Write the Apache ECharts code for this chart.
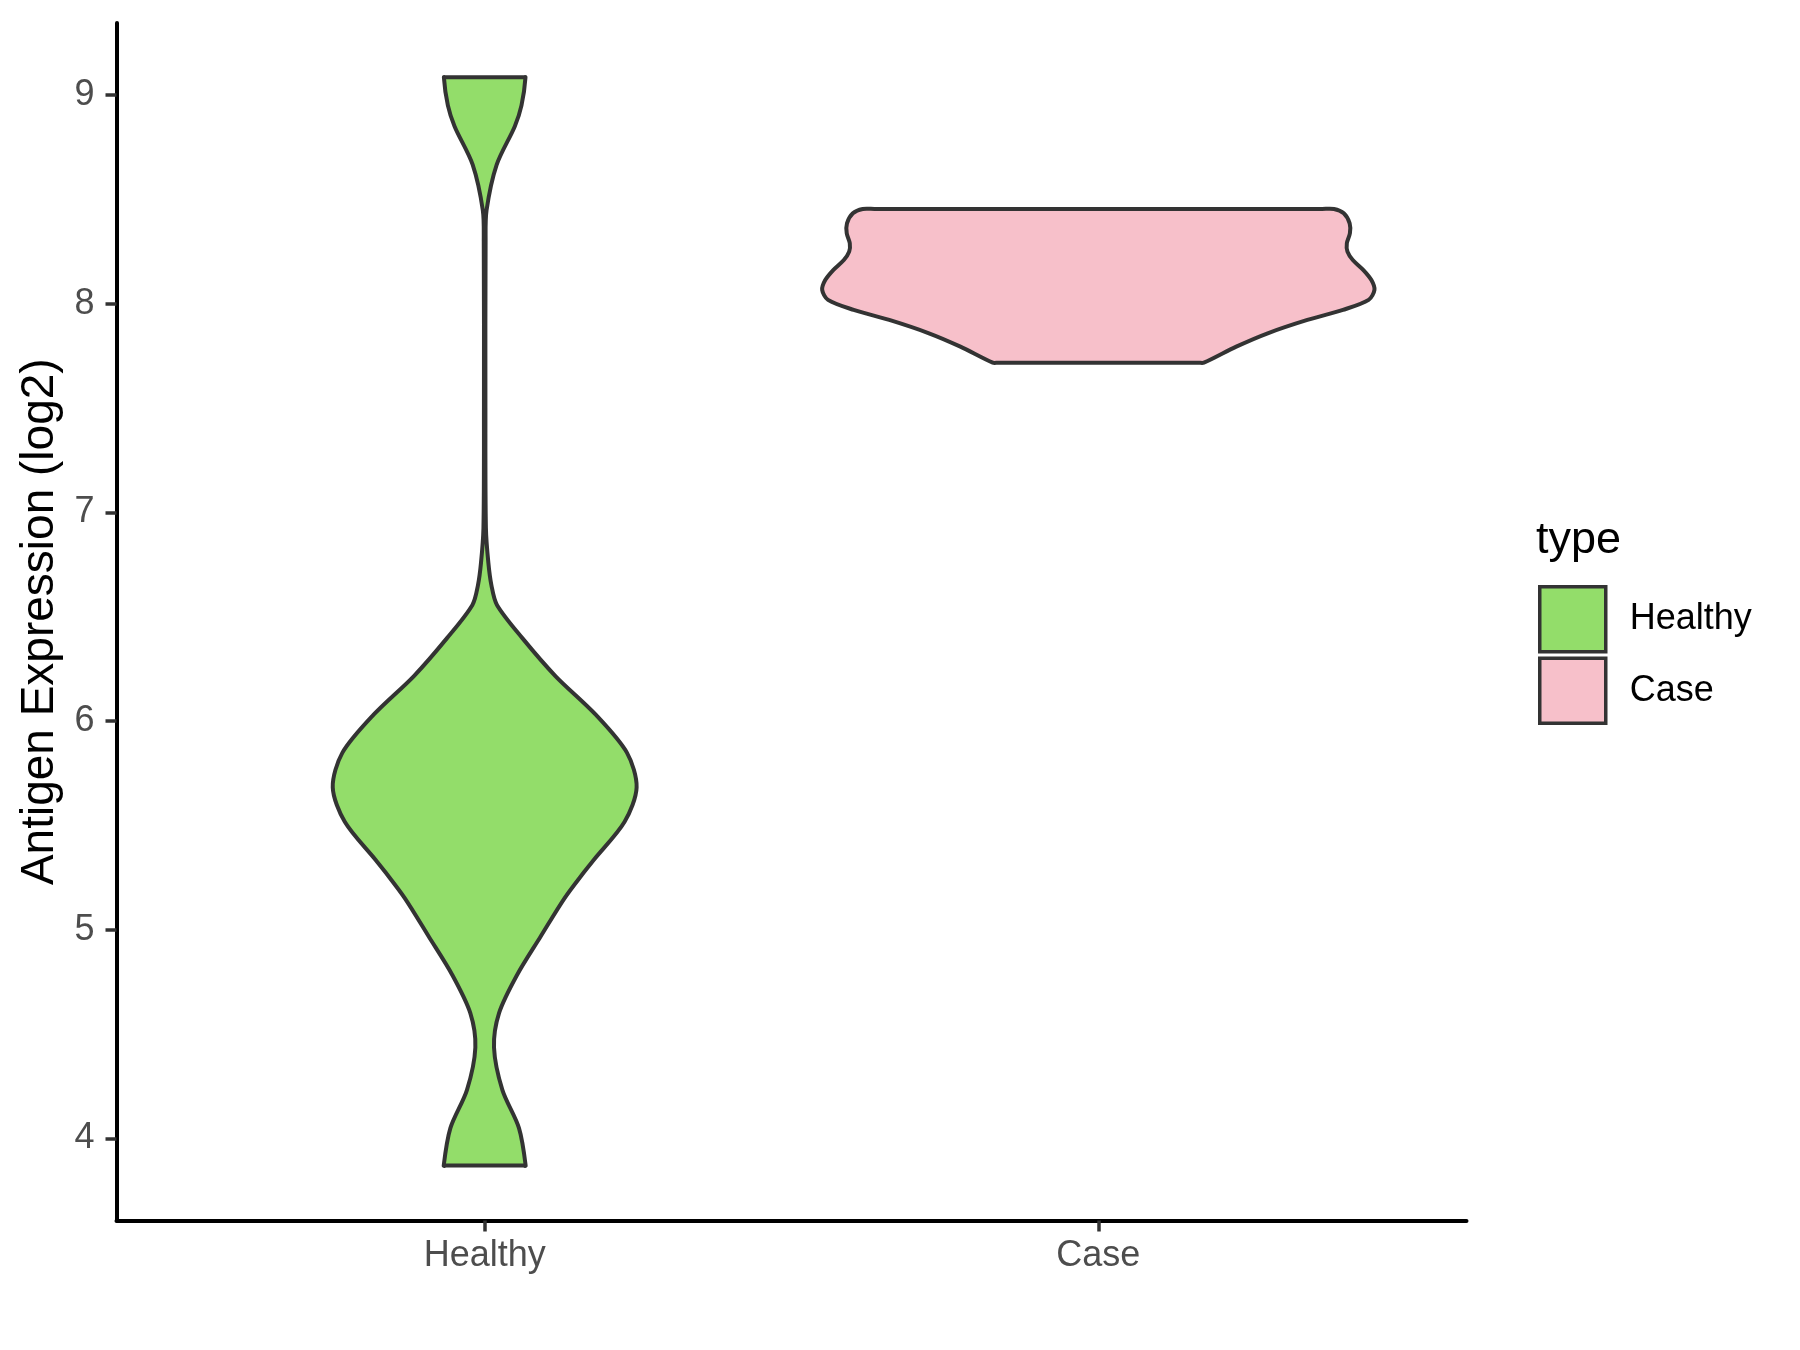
<!DOCTYPE html>
<html><head><meta charset="utf-8">
<script src="https://cdn.jsdelivr.net/npm/echarts@6/dist/echarts.min.js"></script>
<style>html,body{margin:0;padding:0;background:#fff}#c{width:1800px;height:1350px}</style>
</head><body><div id="c"></div>
<script>
// ---- data ----
const categories = ['Healthy', 'Case'];
const yTickValues = [4, 5, 6, 7, 8, 9];
const xTickValues = [1, 2];
// Healthy violin outline: y value and half-width (in category units)
const healthyY = [3.869, 4.049, 4.232, 4.435, 4.6, 4.784, 4.967, 5.15, 5.276, 5.335, 5.517, 5.682, 5.847, 6.03, 6.214, 6.397, 6.556, 6.65, 6.758, 6.925, 7.5, 8.3, 8.446, 8.666, 8.849, 8.95, 9.085];
const healthyHalfWidth = [0.0668, 0.0559, 0.0288, 0.0152, 0.0234, 0.053, 0.0912, 0.13, 0.162, 0.178, 0.228, 0.2476, 0.232, 0.181, 0.1157, 0.0614, 0.02, 0.011, 0.006, 0.002, 0.0012, 0.0015, 0.003, 0.0196, 0.049, 0.06, 0.0665];
// Case violin outline
const caseY = [7.717, 7.794, 7.858, 7.922, 7.97, 8.018, 8.066, 8.113, 8.161, 8.209, 8.249, 8.289, 8.337, 8.385, 8.433, 8.454];
const caseHalfWidth = [0.172, 0.2248, 0.276, 0.3407, 0.3987, 0.4405, 0.450, 0.445, 0.432, 0.4147, 0.406, 0.405, 0.410, 0.4096, 0.4, 0.384];

const fillColors = ['#93DD6A', '#F7C0CA'];
const profiles = [[healthyY, healthyHalfWidth], [caseY, caseHalfWidth]];
const FONT = "'Liberation Sans', Arial, sans-serif";

function renderViolin(params, api) {
  const k = params.seriesIndex;
  const xc = api.value(0);
  const ys = profiles[k][0], ws = profiles[k][1];
  const n = ys.length;
  const right = [], left = [];
  for (let i = 0; i < n; i++) {
    right.push(api.coord([xc + ws[i], ys[i]]));
    left.push(api.coord([xc - ws[i], ys[i]]));
  }
  const pts = [];
  pts.push(api.coord([xc + ws[0] * 0.95, ys[0]]));
  for (let i = 0; i < n; i++) pts.push(right[i]);
  pts.push(api.coord([xc + ws[n - 1] * 0.95, ys[n - 1]]));
  pts.push(api.coord([xc - ws[n - 1] * 0.95, ys[n - 1]]));
  for (let i = n - 1; i >= 0; i--) pts.push(left[i]);
  pts.push(api.coord([xc - ws[0] * 0.95, ys[0]]));
  return {
    type: 'polygon',
    shape: { points: pts, smooth: 0.3 },
    style: { fill: fillColors[k], stroke: '#333333', lineWidth: 4, lineJoin: 'round' }
  };
}

const chart = echarts.init(document.getElementById('c'), null, { renderer: 'canvas' });
chart.setOption({
  animation: false,
  backgroundColor: '#ffffff',
  grid: { left: 116.5, right: 333.5, top: 23, bottom: 129.5 },
  xAxis: {
    type: 'value', min: 0.4, max: 2.6,
    splitLine: { show: false },
    axisLine: { lineStyle: { color: '#000000', width: 4 } },
    axisTick: { customValues: xTickValues, length: 11, lineStyle: { color: '#333333', width: 3.5 } },
    axisLabel: { customValues: xTickValues, formatter: v => categories[Math.round(v) - 1], fontSize: 36, color: '#4D4D4D', margin: 18, fontFamily: FONT }
  },
  yAxis: {
    type: 'value', min: 3.606, max: 9.345,
    splitLine: { show: false },
    axisLine: { show: true, lineStyle: { color: '#000000', width: 4 } },
    axisTick: { show: true, customValues: yTickValues, length: 11, lineStyle: { color: '#333333', width: 3.5 } },
    axisLabel: { customValues: yTickValues, fontSize: 36, color: '#4D4D4D', margin: 22, fontFamily: FONT },
    name: 'Antigen Expression (log2)', nameLocation: 'middle', nameGap: 44,
    nameTextStyle: { fontSize: 46, color: '#000000', fontFamily: FONT }
  },
  legend: {
    orient: 'vertical', left: 1538, top: 585, padding: 0,
    itemWidth: 66, itemHeight: 65, itemGap: 3, icon: 'rect', selectedMode: false,
    data: [
      { name: 'Healthy', itemStyle: { color: fillColors[0], borderColor: '#333333', borderWidth: 3.5 } },
      { name: 'Case', itemStyle: { color: fillColors[1], borderColor: '#333333', borderWidth: 3.5 } }
    ],
    textStyle: { fontSize: 36, color: '#000000', fontFamily: FONT, padding: [7, 0, 0, 19] }
  },
  graphic: [
    { type: 'text', x: 1536, y: 541, style: { text: 'type', fontSize: 45, fill: '#000000', fontFamily: FONT, verticalAlign: 'middle' } }
  ],
  series: [
    { name: 'Healthy', type: 'custom', renderItem: renderViolin, data: [[1, healthyY[0]]],
      itemStyle: { color: fillColors[0], borderColor: '#333333', borderWidth: 3.5 } },
    { name: 'Case', type: 'custom', renderItem: renderViolin, data: [[2, caseY[0]]],
      itemStyle: { color: fillColors[1], borderColor: '#333333', borderWidth: 3.5 } }
  ]
});
</script>
</body></html>
